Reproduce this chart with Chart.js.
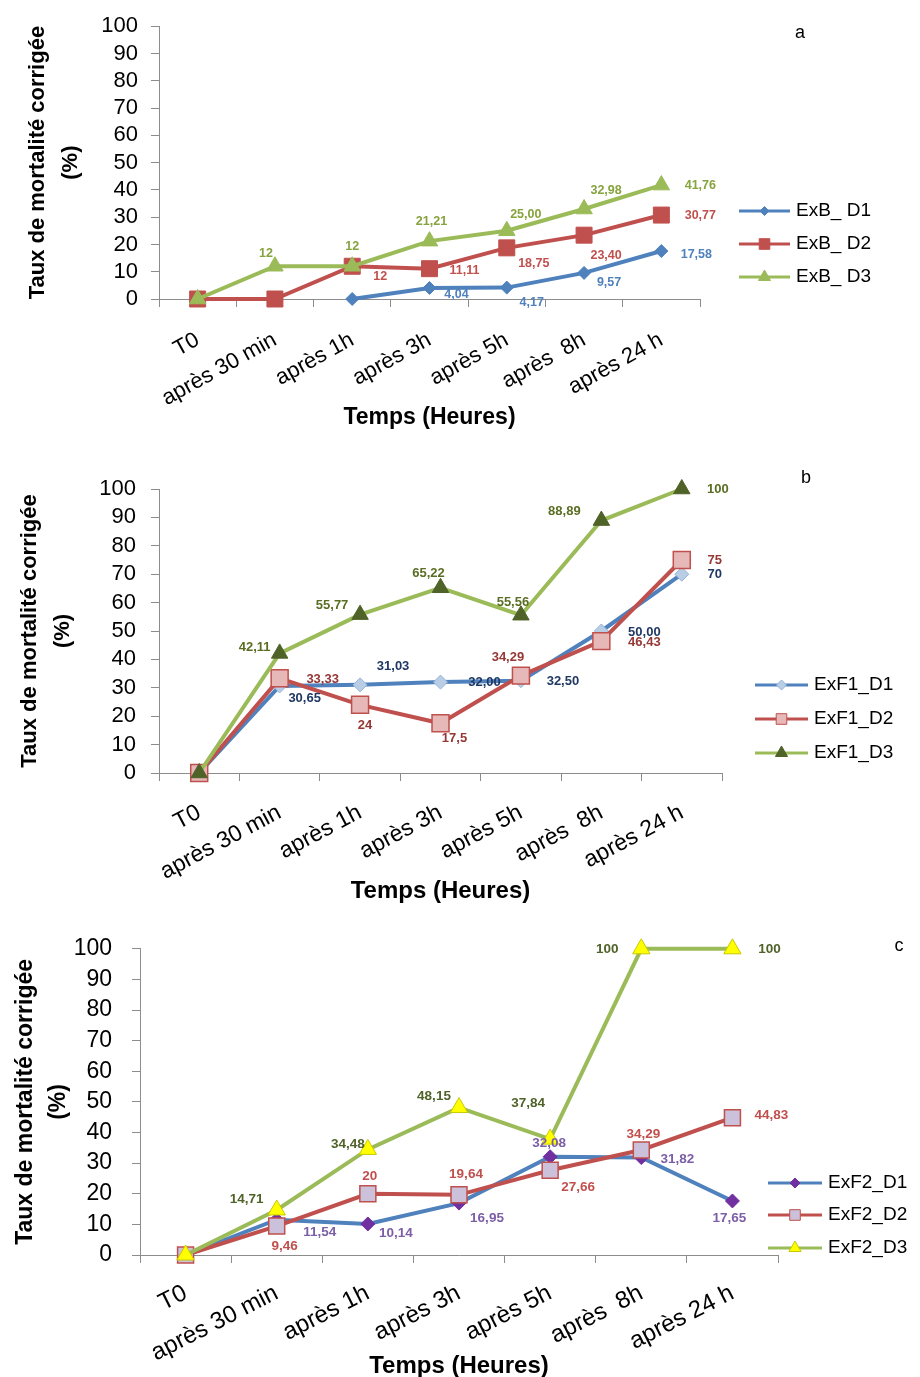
<!DOCTYPE html>
<html>
<head>
<meta charset="utf-8">
<script src="https://cdn.jsdelivr.net/npm/chart.js@4/dist/chart.umd.min.js"></script>
<style>
  body { margin: 0; background: #fff; width: 920px; height: 1377px; position: relative; overflow: hidden; }
  .panel { position: absolute; left: 0; width: 920px; }
  canvas { display: block; }
</style>
</head>
<body>
<div class="panel" style="top:0px"><canvas id="chartA" width="920" height="440"></canvas></div>
<div class="panel" style="top:455px"><canvas id="chartB" width="920" height="450"></canvas></div>
<div class="panel" style="top:915px"><canvas id="chartC" width="920" height="462"></canvas></div>
<script>
// Time points and value axis
const categories = ['T0', 'après 30 min', 'après 1h', 'après 3h', 'après 5h', 'après  8h', 'après 24 h'];
const yTickValues = [0, 10, 20, 30, 40, 50, 60, 70, 80, 90, 100];

// a) ExB
const exB_D1 = [null, null, 0, 4.04, 4.17, 9.57, 17.58];
const exB_D2 = [0, 0, 12, 11.11, 18.75, 23.40, 30.77];
const exB_D3 = [0, 12, 12, 21.21, 25.00, 32.98, 41.76];
// b) ExF1
const exF1_D1 = [0, 30.65, 31.03, 32.00, 32.50, 50.00, 70];
const exF1_D2 = [0, 33.33, 24, 17.5, 34.29, 46.43, 75];
const exF1_D3 = [0, 42.11, 55.77, 65.22, 55.56, 88.89, 100];
// c) ExF2
const exF2_D1 = [0, 11.54, 10.14, 16.95, 32.08, 31.82, 17.65];
const exF2_D2 = [0, 9.46, 20, 19.64, 27.66, 34.29, 44.83];
const exF2_D3 = [0, 14.71, 34.48, 48.15, 37.84, 100, 100];

// decimals shown in each value label
const decB_D1 = [0, 0, 0, 2, 2, 2, 2];
const decB_D2 = [0, 0, 0, 2, 2, 2, 2];
const decB_D3 = [0, 0, 0, 2, 2, 2, 2];
const decF1_D1 = [0, 2, 2, 2, 2, 2, 0];
const decF1_D2 = [0, 2, 0, 1, 2, 2, 0];
const decF1_D3 = [0, 2, 2, 2, 2, 2, 0];
const decF2_D1 = [0, 2, 2, 2, 2, 2, 2];
const decF2_D2 = [0, 2, 0, 2, 2, 2, 2];
const decF2_D3 = [0, 2, 2, 2, 2, 0, 0];

const FONT = '"Liberation Sans", Arial, sans-serif';

function drawMarker(ctx, style, x, y, r) {
  ctx.beginPath();
  if (style === 'rectRot') {
    ctx.moveTo(x, y - r); ctx.lineTo(x + r, y); ctx.lineTo(x, y + r); ctx.lineTo(x - r, y);
  } else if (style === 'rect') {
    const s = r * Math.SQRT1_2;
    ctx.rect(x - s, y - s, 2 * s, 2 * s);
  } else {
    const a = 2 * Math.PI / 3;
    ctx.moveTo(x, y - r);
    ctx.lineTo(x + r * Math.sin(a), y - r * Math.cos(a));
    ctx.lineTo(x - r * Math.sin(a), y - r * Math.cos(a));
  }
  ctx.closePath();
  ctx.fill();
  ctx.stroke();
}

// value labels next to each point (zeros are not labelled)
const valueLabels = {
  id: 'valueLabels',
  afterDatasetsDraw(chart, args, opts) {
    const ctx = chart.ctx;
    chart.data.datasets.forEach((ds, i) => {
      const meta = chart.getDatasetMeta(i);
      meta.data.forEach((pt, j) => {
        const v = ds.data[j];
        const off = ds.labelOffsets[j];
        if (v == null || v === 0 || !off) return;
        const txt = v.toFixed(ds.decimals[j]).replace('.', ',');
        ctx.save();
        ctx.font = 'bold ' + opts.size + 'px ' + FONT;
        ctx.fillStyle = ds.labelColor;
        ctx.textAlign = 'center';
        ctx.textBaseline = 'middle';
        ctx.fillText(txt, pt.x + off[0], pt.y + off[1]);
        ctx.restore();
      });
    });
  }
};

// legend on the right: line + marker + name, and the panel letter
const sideLegend = {
  id: 'sideLegend',
  afterDraw(chart, args, opts) {
    const ctx = chart.ctx;
    ctx.save();
    chart.data.datasets.forEach((ds, i) => {
      const y = opts.rows[i];
      ctx.strokeStyle = ds.borderColor;
      ctx.lineWidth = 3;
      ctx.beginPath();
      ctx.moveTo(opts.x, y);
      ctx.lineTo(opts.x + opts.len, y);
      ctx.stroke();
      ctx.fillStyle = ds.pointBackgroundColor;
      ctx.strokeStyle = ds.pointBorderColor;
      ctx.lineWidth = 1;
      drawMarker(ctx, ds.pointStyle, opts.x + opts.len / 2, y, ds.legendRadius);
      ctx.fillStyle = '#000';
      ctx.font = '19px ' + FONT;
      ctx.textAlign = 'left';
      ctx.textBaseline = 'middle';
      ctx.fillText(ds.label, opts.x + opts.len + 6, y);
    });
    ctx.font = '18px ' + FONT;
    ctx.textAlign = 'center';
    ctx.fillText(opts.tag, opts.tagX, opts.tagY);
    ctx.restore();
  }
};

function makeChart(id, g, datasets, legend) {
  const canvas = document.getElementById(id);
  const W = canvas.width, H = canvas.height;
  const xLine = 26;
  const xBottom = g.xTitleY + xLine / 2;
  const yLine = 33;
  const axisGrey = '#8c8c8c';
  return new Chart(canvas, {
    type: 'line',
    data: { labels: categories, datasets: datasets },
    options: {
      responsive: false,
      animation: false,
      layout: { padding: { left: 0, top: g.top, right: W - g.right, bottom: H - xBottom } },
      plugins: {
        legend: { display: false }, tooltip: { enabled: false },
        sideLegend: legend, valueLabels: { size: g.labelSize }
      },
      scales: {
        x: {
          offset: true,
          grid: { offset: true, drawOnChartArea: false, tickLength: 8, tickColor: axisGrey },
          border: { color: axisGrey, width: 1 },
          ticks: { color: '#000', font: { size: g.xTickSize, family: FONT }, minRotation: g.rot, maxRotation: g.rot,
                   autoSkip: false, padding: g.xTickPad },
          title: { display: true, text: 'Temps (Heures)', color: '#000', padding: 0,
                   font: { size: g.xTitleSize, weight: 'bold', family: FONT, lineHeight: xLine / g.xTitleSize } },
          afterFit: s => { s.height = xBottom - g.bottom; }
        },
        y: {
          min: 0, max: 100,
          afterBuildTicks: s => { s.ticks = yTickValues.map(v => ({ value: v })); },
          grid: { drawOnChartArea: false, tickLength: 8, tickColor: axisGrey },
          border: { color: axisGrey, width: 1 },
          ticks: { color: '#000', font: { size: g.yTickSize, family: FONT }, padding: g.yTickPad, autoSkip: false },
          title: { display: true, text: ['Taux de mortalité corrigée', '(%)'], color: '#000',
                   padding: { top: g.yTitleX - yLine / 2, bottom: 0 },
                   font: { size: g.yTitleSize, weight: 'bold', family: FONT, lineHeight: yLine / g.yTitleSize } },
          afterFit: s => { s.width = g.left; }
        }
      }
    },
    plugins: [valueLabels, sideLegend]
  });
}

function series(label, data, decimals, offsets, st) {
  return Object.assign({
    label: label, data: data, decimals: decimals, labelOffsets: offsets,
    borderWidth: 4, pointBorderWidth: 1, tension: 0, clip: false, spanGaps: false
  }, st);
}

const BLUE = '#4F81BD', RED = '#C0504D', GREEN = '#9BBB59';

// a
makeChart('chartA',
  { left: 159, right: 700, top: 19, bottom: 299, xTitleY: 418, yTitleX: 38, rot: 29,
    xTickSize: 22, yTickSize: 22, yTickPad: 13, xTickPad: 20, xTitleSize: 23, yTitleSize: 22, labelSize: 12.5 },
  [
    series('ExB_ D1', exB_D1, decB_D1,
      [null, null, null, [27, 7], [25, 15], [25, 10], [35, 4]],
      { borderColor: BLUE, pointStyle: 'rectRot', pointRadius: 6.5, pointBackgroundColor: BLUE, pointBorderColor: BLUE,
        labelColor: '#4F81BD', legendRadius: 4.5, order: 3 }),
    series('ExB_ D2', exB_D2, decB_D2,
      [null, null, [28, 10], [35, 2], [27, 16], [22, 20], [39, 0]],
      { borderColor: RED, pointStyle: 'rect', pointRadius: 11.3, pointBackgroundColor: RED, pointBorderColor: RED,
        labelColor: '#C0504D', legendRadius: 7.5, order: 2 }),
    series('ExB_ D3', exB_D3, decB_D3,
      [null, [-9, -13], [0, -20], [2, -20], [19, -16], [22, -18], [39, 0]],
      { borderColor: GREEN, pointStyle: 'triangle', pointRadius: 9.5, pointBackgroundColor: GREEN, pointBorderColor: GREEN,
        labelColor: '#86A33E', legendRadius: 7, order: 1 })
  ],
  { x: 739, len: 51, rows: [211, 244, 277], tag: 'a', tagX: 800, tagY: 33 });

// b
makeChart('chartB',
  { left: 159, right: 722, top: 34, bottom: 318, xTitleY: 436, yTitleX: 30, rot: 28,
    xTickSize: 23, yTickSize: 22, yTickPad: 15, xTickPad: 18, xTitleSize: 24, yTitleSize: 22, labelSize: 13 },
  [
    series('ExF1_D1', exF1_D1, decF1_D1,
      [null, [25, 12], [33, -18], [44, 0], [42, 1], [43, 1], [33, 0]],
      { borderColor: BLUE, pointStyle: 'rectRot', pointRadius: 7, pointBackgroundColor: '#B9CDE5', pointBorderColor: '#95B3D7',
        labelColor: '#1F3864', legendRadius: 5, order: 3 }),
    series('ExF1_D2', exF1_D2, decF1_D2,
      [null, [43, 1], [5, 21], [14, 15], [-13, -18], [43, 1], [33, 0]],
      { borderColor: RED, pointStyle: 'rect', pointRadius: 12, pointBorderWidth: 1.5, pointBackgroundColor: '#E6B9B8', pointBorderColor: '#C0504D',
        labelColor: '#953735', legendRadius: 7.5, order: 2 }),
    series('ExF1_D3', exF1_D3, decF1_D3,
      [null, [-25, -6], [-28, -9], [-12, -14], [-8, -13], [-37, -9], [36, 0]],
      { borderColor: GREEN, pointStyle: 'triangle', pointRadius: 9.5, pointBackgroundColor: '#4F6228', pointBorderColor: '#4F6228',
        labelColor: '#5A6E23', legendRadius: 7, order: 1 })
  ],
  { x: 755, len: 53, rows: [230, 264, 298], tag: 'b', tagX: 806, tagY: 23 });

// c
makeChart('chartC',
  { left: 140, right: 778, top: 28, bottom: 340, xTitleY: 451, yTitleX: 26, rot: 27,
    xTickSize: 24, yTickSize: 23, yTickPad: 20, xTickPad: 16, xTitleSize: 24, yTitleSize: 23, labelSize: 13.5 },
  [
    series('ExF2_D1', exF2_D1, decF2_D1,
      [null, [43, 13], [28, 9], [28, 15], [-1, -13], [36, 2], [-3, 17]],
      { borderColor: BLUE, pointStyle: 'rectRot', pointRadius: 7, pointBackgroundColor: '#7030A0', pointBorderColor: '#7030A0',
        labelColor: '#7B5EA7', legendRadius: 5, order: 3 }),
    series('ExF2_D2', exF2_D2, decF2_D2,
      [null, [8, 20], [2, -17], [7, -21], [28, 17], [2, -16], [39, -2]],
      { borderColor: RED, pointStyle: 'rect', pointRadius: 11.3, pointBorderWidth: 1.5, pointBackgroundColor: '#CCC1DA', pointBorderColor: '#C0504D',
        labelColor: '#C0504D', legendRadius: 7.5, order: 2 }),
    series('ExF2_D3', exF2_D3, decF2_D3,
      [null, [-30, -11], [-20, -5], [-25, -11], [-22, -36], [-34, 0], [37, 0]],
      { borderColor: GREEN, pointStyle: 'triangle', pointRadius: 10, pointBackgroundColor: '#FFFF00', pointBorderColor: '#C8C800',
        labelColor: '#4F6228', legendRadius: 7, order: 1 })
  ],
  { x: 768, len: 54, rows: [268, 300, 333], tag: 'c', tagX: 899, tagY: 31 });
</script>
</body>
</html>
